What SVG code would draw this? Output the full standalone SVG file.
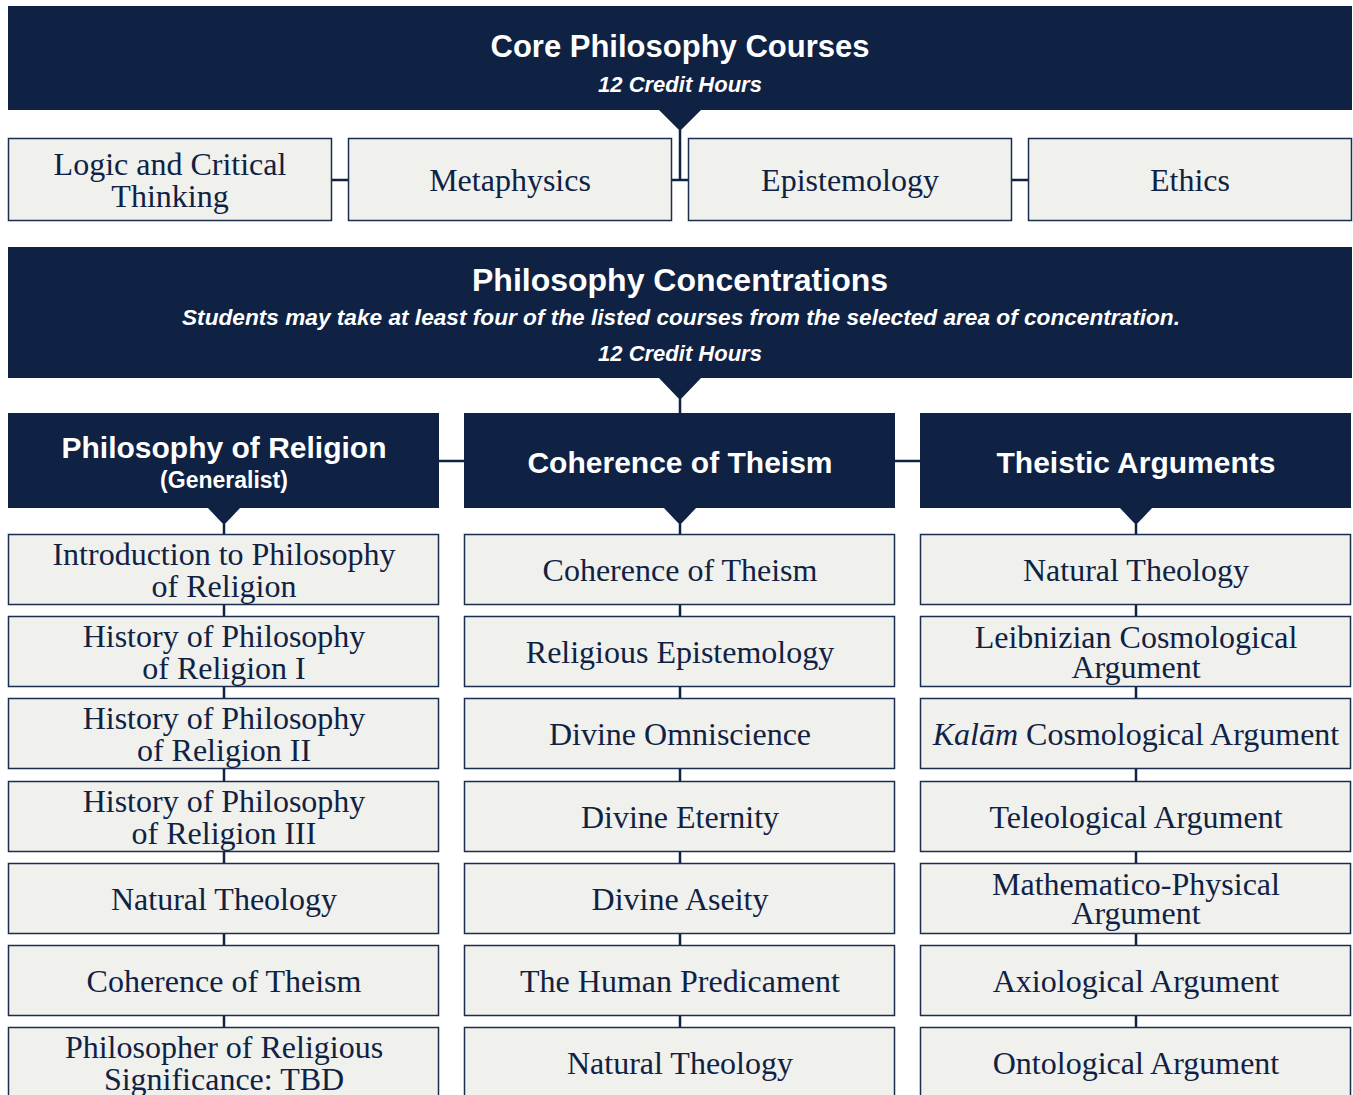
<svg xmlns="http://www.w3.org/2000/svg" width="1353" height="1095" viewBox="0 0 1353 1095">
<style>
.hdr{fill:#0f2244}
.box{fill:#f0f0ec;stroke:#1b2d4f;stroke-width:1.5}
.conn{stroke:#0f2244;stroke-width:2.5;fill:none}
.ht{font-family:"Liberation Sans",Arial,sans-serif;font-weight:bold;fill:#ffffff;text-anchor:middle}
.hi{font-family:"Liberation Sans",Arial,sans-serif;font-weight:bold;font-style:italic;fill:#ffffff;text-anchor:middle;font-size:22px}
.bt{font-family:"Liberation Serif","Times New Roman",serif;fill:#0f2244;text-anchor:middle;font-size:32px}
</style>
<rect width="1353" height="1095" fill="#ffffff"/>
<g id="connectors">
<polygon points="658,109 702,109 680,131" fill="#0f2244"/>
<path class="conn" d="M680,130 V180 M331,180 H348 M671,180 H688 M1011,180 H1028"/>
<polygon points="658,377 702,377 680,400" fill="#0f2244"/>
<path class="conn" d="M680,399 V413 M439,461 H464 M895,461 H920"/>
<polygon points="207,507 241,507 224,525" fill="#0f2244"/>
<polygon points="663,507 697,507 680,525" fill="#0f2244"/>
<polygon points="1119,507 1153,507 1136,525" fill="#0f2244"/>
<path class="conn" stroke-width="2" d="M224,524 V1030 M680,524 V1030 M1136,524 V1030"/>
</g>
<g id="core-header">
<rect class="hdr" x="8" y="6" width="1344" height="104"/>
<text class="ht" x="680" y="57" font-size="31">Core Philosophy Courses</text>
<text class="hi" x="680" y="92">12 Credit Hours</text>
</g>
<g id="core-logic"><rect class="box" x="8.5" y="138.5" width="323" height="82"/><text class="bt" x="170" y="175">Logic and Critical</text><text class="bt" x="170" y="207">Thinking</text></g>
<g id="core-metaphysics"><rect class="box" x="348.5" y="138.5" width="323" height="82"/><text class="bt" x="510" y="191">Metaphysics</text></g>
<g id="core-epistemology"><rect class="box" x="688.5" y="138.5" width="323" height="82"/><text class="bt" x="850" y="191">Epistemology</text></g>
<g id="core-ethics"><rect class="box" x="1028.5" y="138.5" width="323" height="82"/><text class="bt" x="1190" y="191">Ethics</text></g>
<g id="conc-header">
<rect class="hdr" x="8" y="247" width="1344" height="131"/>
<text class="ht" x="680" y="291" font-size="32">Philosophy Concentrations</text>
<text class="hi" x="681" y="325" textLength="998" lengthAdjust="spacingAndGlyphs">Students may take at least four of the listed courses from the selected area of concentration.</text>
<text class="hi" x="680" y="361">12 Credit Hours</text>
</g>
<g id="pr-header"><rect class="hdr" x="8" y="413" width="431" height="95"/><text class="ht" x="224" y="458" font-size="30">Philosophy of Religion</text><text class="ht" x="224" y="488" font-size="23">(Generalist)</text></g>
<g id="ct-header"><rect class="hdr" x="464" y="413" width="431" height="95"/><text class="ht" x="680" y="473" font-size="30">Coherence of Theism</text></g>
<g id="ta-header"><rect class="hdr" x="920" y="413" width="431" height="95"/><text class="ht" x="1136" y="473" font-size="30">Theistic Arguments</text></g>

<g id="pr-1"><rect class="box" x="8.5" y="534.5" width="430" height="70"/><text class="bt" x="224" y="565">Introduction to Philosophy</text><text class="bt" x="224" y="597">of Religion</text></g>
<g id="pr-2"><rect class="box" x="8.5" y="616.5" width="430" height="70"/><text class="bt" x="224" y="647">History of Philosophy</text><text class="bt" x="224" y="679">of Religion I</text></g>
<g id="pr-3"><rect class="box" x="8.5" y="698.5" width="430" height="70"/><text class="bt" x="224" y="729">History of Philosophy</text><text class="bt" x="224" y="761">of Religion II</text></g>
<g id="pr-4"><rect class="box" x="8.5" y="781.5" width="430" height="70"/><text class="bt" x="224" y="812">History of Philosophy</text><text class="bt" x="224" y="844">of Religion III</text></g>
<g id="pr-5"><rect class="box" x="8.5" y="863.5" width="430" height="70"/><text class="bt" x="224" y="910">Natural Theology</text></g>
<g id="pr-6"><rect class="box" x="8.5" y="945.5" width="430" height="70"/><text class="bt" x="224" y="992">Coherence of Theism</text></g>
<g id="pr-7"><rect class="box" x="8.5" y="1027.5" width="430" height="70"/><text class="bt" x="224" y="1058">Philosopher of Religious</text><text class="bt" x="224" y="1090">Significance: TBD</text></g>

<g id="ct-1"><rect class="box" x="464.5" y="534.5" width="430" height="70"/><text class="bt" x="680" y="581">Coherence of Theism</text></g>
<g id="ct-2"><rect class="box" x="464.5" y="616.5" width="430" height="70"/><text class="bt" x="680" y="663">Religious Epistemology</text></g>
<g id="ct-3"><rect class="box" x="464.5" y="698.5" width="430" height="70"/><text class="bt" x="680" y="745">Divine Omniscience</text></g>
<g id="ct-4"><rect class="box" x="464.5" y="781.5" width="430" height="70"/><text class="bt" x="680" y="828">Divine Eternity</text></g>
<g id="ct-5"><rect class="box" x="464.5" y="863.5" width="430" height="70"/><text class="bt" x="680" y="910">Divine Aseity</text></g>
<g id="ct-6"><rect class="box" x="464.5" y="945.5" width="430" height="70"/><text class="bt" x="680" y="992">The Human Predicament</text></g>
<g id="ct-7"><rect class="box" x="464.5" y="1027.5" width="430" height="70"/><text class="bt" x="680" y="1074">Natural Theology</text></g>

<g id="ta-1"><rect class="box" x="920.5" y="534.5" width="430" height="70"/><text class="bt" x="1136" y="581">Natural Theology</text></g>
<g id="ta-2"><rect class="box" x="920.5" y="616.5" width="430" height="70"/><text class="bt" x="1136" y="648">Leibnizian Cosmological</text><text class="bt" x="1136" y="678">Argument</text></g>
<g id="ta-3"><rect class="box" x="920.5" y="698.5" width="430" height="70"/><text class="bt" x="1136" y="745"><tspan font-style="italic">Kalām</tspan> Cosmological Argument</text></g>
<g id="ta-4"><rect class="box" x="920.5" y="781.5" width="430" height="70"/><text class="bt" x="1136" y="828">Teleological Argument</text></g>
<g id="ta-5"><rect class="box" x="920.5" y="863.5" width="430" height="70"/><text class="bt" x="1136" y="895">Mathematico-Physical</text><text class="bt" x="1136" y="924">Argument</text></g>
<g id="ta-6"><rect class="box" x="920.5" y="945.5" width="430" height="70"/><text class="bt" x="1136" y="992">Axiological Argument</text></g>
<g id="ta-7"><rect class="box" x="920.5" y="1027.5" width="430" height="70"/><text class="bt" x="1136" y="1074">Ontological Argument</text></g>
</svg>
